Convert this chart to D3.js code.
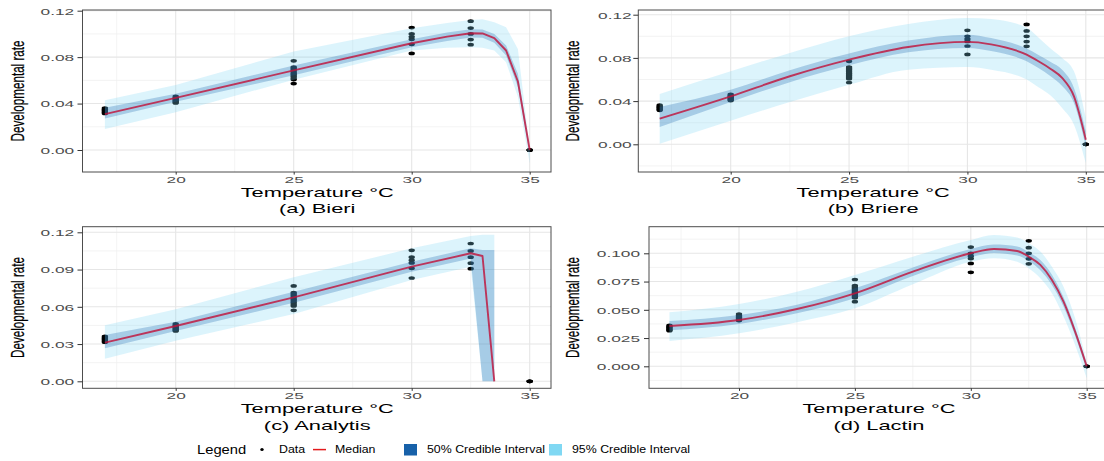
<!DOCTYPE html>
<html><head><meta charset="utf-8">
<script src="https://cdn.jsdelivr.net/npm/d3@7"></script>
<style>body{margin:0;background:#fff} svg{display:block}</style>
</head><body><svg id="c" width="1104" height="461"></svg>
<script>
// ---------- observed data (same in every panel) ----------
const obsTemp = [17,17,17,17,17,17,17, 20,20,20,20,20,20,20,20,
  25,25,25,25,25,25,25,25,25,25,25,25,25, 30,30,30,30,30,30, 32.5,32.5,32.5,32.5,32.5, 35,35,35];
const obsRate = [0.0362,0.0352,0.0345,0.0338,0.033,0.0322,0.0315,
  0.0462,0.045,0.0443,0.0435,0.0428,0.042,0.0412,0.0405,
  0.0768,0.0715,0.0705,0.0695,0.0685,0.0672,0.066,0.0652,0.064,0.063,0.0618,0.0607,0.0572,
  0.1055,0.1,0.0975,0.0953,0.091,0.0832,
  0.111,0.105,0.1,0.0951,0.0907,
  0,0,0];

// ---------- (a) Bieri ----------
const bieriTemp   = [17, 20, 25, 30, 31.5, 32.5, 33, 33.5, 34, 34.5, 35];
const bieriMedian = [0.0309,0.0449,0.0686,0.0920,0.0977,0.1006,0.1004,0.0963,0.0857,0.0590,0.0];
const bieriLo95   = [0.0180,0.0325,0.0606,0.0857,0.0880,0.0886,0.0880,0.0857,0.0757,0.0457,-0.0114];
const bieriHi95   = [0.0429,0.0560,0.0849,0.1049,0.1095,0.1120,0.1126,0.1100,0.1057,0.0871,0.0014];
const bieriLo50   = [0.0271,0.0415,0.0643,0.0886,0.0940,0.0970,0.0968,0.0923,0.0814,0.0543,-0.0030];
const bieriHi50   = [0.0363,0.0485,0.0729,0.0954,0.1012,0.1040,0.1037,0.1000,0.0900,0.0657,0.0010];

// ---------- (b) Briere ----------
const briereTemp   = [17, 20, 22.5, 25, 27.5, 30, 31, 32.5, 33, 33.5, 34, 34.5, 35];
const briereMedian = [0.0238,0.0444,0.0630,0.0784,0.0901,0.0948,0.0925,0.0830,0.0769,0.0700,0.0614,0.0444,0.0043];
const briereLo95   = [0.0006,0.0219,0.0392,0.0552,0.0691,0.0716,0.0691,0.0599,0.0528,0.0454,0.0336,0.0182,-0.0173];
const briereHi95   = [0.0466,0.0676,0.0846,0.1000,0.1114,0.1170,0.1160,0.1080,0.0990,0.0890,0.0800,0.0676,0.0244];
const briereLo50   = [0.0160,0.0392,0.0575,0.0731,0.0852,0.0892,0.0864,0.0769,0.0707,0.0632,0.0540,0.0383,-0.0020];
const briereHi50   = [0.0346,0.0506,0.0685,0.0840,0.0960,0.1015,0.0984,0.0886,0.0828,0.0765,0.0690,0.0522,0.0120];

// ---------- (c) Analytis ----------
const analytisTemp   = [17, 20, 25, 30, 32.5, 33, 33.5];
const analytisMedian = [0.0311,0.0445,0.0676,0.0923,0.1031,0.1009,0];
const analytisLo95   = [0.0182,0.0327,0.0542,0.0816,0.0923,0,0];
const analytisHi95   = [0.0451,0.0580,0.0838,0.1071,0.1170,0.1180,0.1180];
const analytisLo50   = [0.0266,0.0405,0.0633,0.0883,0.0990,0,0];
const analytisHi50   = [0.0373,0.0480,0.0722,0.0963,0.1071,0.1057,0.1057];

// ---------- (d) Lactin ----------
const lactinTemp   = [17, 20, 22.5, 25, 27.5, 30, 31, 32, 32.5, 33, 33.5, 34, 34.5, 35];
const lactinMedian = [0.0357,0.0410,0.0507,0.0646,0.0838,0.1000,0.1038,0.1020,0.0970,0.0897,0.0764,0.0572,0.0307,0];
const lactinLo95   = [0.0224,0.0292,0.0390,0.0513,0.0726,0.0926,0.0956,0.0926,0.0867,0.0779,0.0646,0.0440,0.0189,-0.0106];
const lactinHi95   = [0.0478,0.0552,0.0660,0.0808,0.0970,0.1118,0.1162,0.1139,0.1088,0.1015,0.0882,0.0705,0.0425,0.0040];
const lactinLo50   = [0.0319,0.0375,0.0470,0.0602,0.0800,0.0965,0.1003,0.0980,0.0932,0.0850,0.0720,0.0530,0.0270,-0.0030];
const lactinHi50   = [0.0401,0.0454,0.0545,0.0690,0.0875,0.1038,0.1077,0.1060,0.1009,0.0940,0.0810,0.0610,0.0340,0.0020];

// ---------- ticks & labels ----------
const xTicks = [20, 25, 30, 35];
const yTicksAB = [0, 0.04, 0.08, 0.12];
const yTicksC  = [0, 0.03, 0.06, 0.09, 0.12];
const yTicksD  = [0, 0.025, 0.05, 0.075, 0.1];
const yFmtAB = d3.format(".2f");
const yFmtD  = d3.format(".3f");
const captions = ["(a) Bieri", "(b) Briere", "(c) Analytis", "(d) Lactin"];
const xTitle = "Temperature °C";
const yTitle = "Developmental rate";
const legendTitle = "Legend";
const legendLabels = ["Data", "Median", "50% Credible Interval", "95% Credible Interval"];

// ---------- styling ----------
const FONT = "'Liberation Sans', Arial, Helvetica, sans-serif";
const C95 = "#80d8f3", C50 = "#1761a9", CMED = "#e31a1c", CMED_PLOT = "#c0143c";
const svg = d3.select("#c");

// layout (pixel geometry of each panel)
const panels = [
  {temp:bieriTemp, med:bieriMedian, lo95:bieriLo95, hi95:bieriHi95, lo50:bieriLo50, hi50:bieriHi50,
   curve:d3.curveLinear, yTicks:yTicksAB, fmt:yFmtAB, yRef:0.12,
   L:82.5, R:551, T:10, B:172, x20:175.7, x35:529.7, y0:150, yRefPx:10.7, lblOff:8.3, titleX:23.5, cap:captions[0]},
  {temp:briereTemp, med:briereMedian, lo95:briereLo95, hi95:briereHi95, lo50:briereLo50, hi50:briereHi50,
   curve:d3.curveMonotoneX, yTicks:yTicksAB, fmt:yFmtAB, yRef:0.12,
   L:638.3, R:1107, T:10, B:172, x20:730.7, x35:1085.8, y0:144.3, yRefPx:14.7, lblOff:6.6, titleX:578.5, cap:captions[1]},
  {temp:analytisTemp, med:analytisMedian, lo95:analytisLo95, hi95:analytisHi95, lo50:analytisLo50, hi50:analytisHi50,
   curve:d3.curveLinear, yTicks:yTicksC, fmt:yFmtAB, yRef:0.12,
   L:82.5, R:551, T:226.7, B:388.3, x20:175.7, x35:529.7, y0:381.3, yRefPx:232.3, lblOff:8.3, titleX:23.5, cap:captions[2]},
  {temp:lactinTemp, med:lactinMedian, lo95:lactinLo95, hi95:lactinHi95, lo50:lactinLo50, hi50:lactinHi50,
   curve:d3.curveMonotoneX, yTicks:yTicksD, fmt:yFmtD, yRef:0.1,
   L:649, R:1108, T:226.7, B:388.3, x20:739, x35:1086.7, y0:366.3, yRefPx:253.3, lblOff:9, titleX:578.5, cap:captions[3]}
];

const TICK_FS = 9.5, TICK_SX = 1.82, TITLE_FS = 13, TITLE_SX = 1.68;

function hText(g, x, y, str, size, sx, anchor, fill) {
  return g.append("text")
    .attr("transform", `translate(${x},${y}) scale(${sx},1)`)
    .attr("text-anchor", anchor).attr("font-size", size)
    .attr("font-family", FONT).attr("fill", fill).text(str);
}

panels.forEach((p, pi) => {
  const x = d3.scaleLinear().domain([20, 35]).range([p.x20, p.x35]);
  const y = d3.scaleLinear().domain([0, p.yRef]).range([p.y0, p.yRefPx]);
  const g = svg.append("g");
  const clipId = "clip" + pi;
  g.append("clipPath").attr("id", clipId).append("rect")
    .attr("x", p.L).attr("y", p.T).attr("width", p.R - p.L).attr("height", p.B - p.T);
  const pg = g.append("g").attr("clip-path", `url(#${clipId})`);
  pg.append("rect").attr("x", p.L).attr("y", p.T).attr("width", p.R - p.L).attr("height", p.B - p.T).attr("fill", "#fff");

  // grid
  const xStep = xTicks[1] - xTicks[0];
  const xMinor = [xTicks[0] - xStep / 2, ...xTicks.map(t => t + xStep / 2)];
  const yStep = p.yTicks[1] - p.yTicks[0];
  const yMinor = [p.yTicks[0] - yStep / 2, ...p.yTicks.map(t => t + yStep / 2)];
  pg.selectAll(".gxm").data(xMinor).join("line")
    .attr("x1", d => x(d)).attr("x2", d => x(d)).attr("y1", p.T).attr("y2", p.B)
    .attr("stroke", "#f0f0f0").attr("stroke-width", 0.8);
  pg.selectAll(".gym").data(yMinor).join("line")
    .attr("y1", d => y(d)).attr("y2", d => y(d)).attr("x1", p.L).attr("x2", p.R)
    .attr("stroke", "#f0f0f0").attr("stroke-width", 0.8);
  pg.selectAll(".gx").data(xTicks).join("line")
    .attr("x1", d => x(d)).attr("x2", d => x(d)).attr("y1", p.T).attr("y2", p.B)
    .attr("stroke", "#e6e6e6").attr("stroke-width", 1.1);
  pg.selectAll(".gy").data(p.yTicks).join("line")
    .attr("y1", d => y(d)).attr("y2", d => y(d)).attr("x1", p.L).attr("x2", p.R)
    .attr("stroke", "#e6e6e6").attr("stroke-width", 1.1);

  // observations (drawn beneath the ribbons)
  pg.selectAll(".pt").data(d3.range(obsTemp.length)).join("ellipse")
    .attr("cx", i => x(obsTemp[i])).attr("cy", i => y(obsRate[i]))
    .attr("rx", 3.2).attr("ry", 1.85).attr("fill", "#000");

  const idx = d3.range(p.temp.length);
  const area = (lo, hi) => d3.area().x(i => x(p.temp[i])).y0(i => y(lo[i])).y1(i => y(hi[i])).curve(p.curve);
  pg.append("path").datum(idx).attr("d", area(p.lo95, p.hi95)).attr("fill", C95).attr("fill-opacity", 0.28);
  pg.append("path").datum(idx).attr("d", area(p.lo50, p.hi50)).attr("fill", C50).attr("fill-opacity", 0.27);
  pg.append("path").datum(idx)
    .attr("d", d3.line().x(i => x(p.temp[i])).y(i => y(p.med[i])).curve(p.curve))
    .attr("fill", "none").attr("stroke", CMED_PLOT).attr("stroke-opacity", 0.82).attr("stroke-width", 1.9)
    .attr("stroke-linejoin", "round");

  // border
  g.append("rect").attr("x", p.L).attr("y", p.T).attr("width", p.R - p.L).attr("height", p.B - p.T)
    .attr("fill", "none").attr("stroke", "#4d4d4d").attr("stroke-width", 1);

  // axes
  const ax = g.append("g").attr("transform", `translate(0,${p.B})`)
    .call(d3.axisBottom(x).tickValues(xTicks).tickSize(2.6).tickPadding(1.2).tickFormat(d3.format("d")));
  ax.select(".domain").remove();
  ax.selectAll("line").attr("stroke", "#333");
  ax.selectAll("text").attr("font-size", TICK_FS).attr("font-family", FONT).attr("fill", "#4d4d4d")
    .attr("transform", `scale(${TICK_SX},1)`);

  const ay = g.append("g").attr("transform", `translate(${p.L},0)`)
    .call(d3.axisLeft(y).tickValues(p.yTicks).tickSize(5).tickPadding(p.lblOff - 5).tickFormat(p.fmt));
  ay.select(".domain").remove();
  ay.selectAll("line").attr("stroke", "#333");
  ay.selectAll("text").attr("font-size", TICK_FS).attr("font-family", FONT).attr("fill", "#4d4d4d")
    .attr("x", -p.lblOff / TICK_SX).attr("dy", "0.36em")
    .attr("transform", `scale(${TICK_SX},1)`);

  // titles
  const cx = (p.L + p.R) / 2 + 0.5;
  hText(g, cx, p.B + 24.7, xTitle, TITLE_FS, TITLE_SX, "middle", "#000");
  hText(g, cx, p.B + 41.2, p.cap, TITLE_FS, TITLE_SX, "middle", "#000");
  // rotated title: local x = reading direction (vertical on screen), local y = glyph height (horizontal)
  g.append("text")
    .attr("transform", `translate(${p.titleX},${(p.T + p.B) / 2}) rotate(-90) scale(1.06,1.62)`)
    .attr("text-anchor", "middle").attr("font-size", 11).attr("font-family", FONT)
    .attr("fill", "#000").attr("stroke", "#000").attr("stroke-width", 0.15).text(yTitle);
});

// ---------- legend ----------
const lg = svg.append("g");
hText(lg, 197, 454, legendTitle, 12.5, 1.18, "start", "#000");
lg.append("ellipse").attr("cx", 262).attr("cy", 449.5).attr("rx", 1.7).attr("ry", 1.5).attr("fill", "#000");
lg.append("line").attr("x1", 313).attr("x2", 326).attr("y1", 449.6).attr("y2", 449.6)
  .attr("stroke", CMED).attr("stroke-width", 1.5);
lg.append("rect").attr("x", 404).attr("y", 444).attr("width", 13).attr("height", 11.5).attr("fill", C50);
lg.append("rect").attr("x", 549).attr("y", 444).attr("width", 13).attr("height", 11.5).attr("fill", C95);
const legX = [279, 335, 427, 572];
legendLabels.forEach((s, i) => {
  hText(lg, legX[i], 453.4, s, 10.3, 1.2, "start", "#000");
});
</script></body></html>
